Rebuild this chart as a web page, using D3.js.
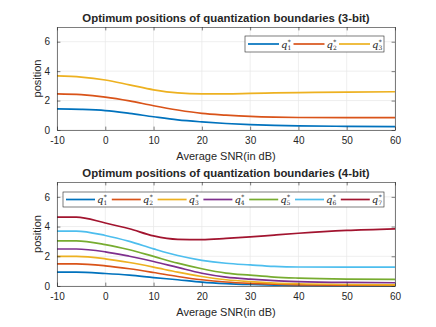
<!DOCTYPE html>
<html>
<head>
<meta charset="utf-8">
<script src="https://cdn.jsdelivr.net/npm/d3@7"></script>
<style>
body { margin: 0; background: #fff; }
svg text { font-family: "Liberation Sans", Arial, sans-serif; fill: #262626; }
</style>
</head>
<body>
<svg id="fig" width="436" height="327"></svg>
<script>
//*************************************************
// Data
//*************************************************
var snr3 = [-10, -5, 0, 5, 10, 15, 20, 25, 30, 35, 40, 50, 60];
var q1_3bit = [1.43, 1.40, 1.32, 1.13, 0.90, 0.69, 0.55, 0.44, 0.36, 0.31, 0.28, 0.25, 0.23];
var q2_3bit = [2.45, 2.40, 2.24, 1.98, 1.65, 1.36, 1.13, 1.01, 0.92, 0.87, 0.85, 0.84, 0.84];
var q3_3bit = [3.68, 3.60, 3.40, 3.07, 2.73, 2.52, 2.46, 2.46, 2.49, 2.52, 2.54, 2.58, 2.60];

var snr4 = [-10, -6, 0, 5, 10, 15, 20, 25, 30, 35, 40, 50, 60];
var q1_4bit = [0.93, 0.93, 0.84, 0.73, 0.57, 0.42, 0.26, 0.16, 0.10, 0.06, 0.04, 0.02, 0.01];
var q2_4bit = [1.49, 1.49, 1.36, 1.16, 0.91, 0.64, 0.42, 0.27, 0.18, 0.12, 0.08, 0.05, 0.04];
var q3_4bit = [1.99, 1.99, 1.83, 1.58, 1.27, 0.93, 0.64, 0.42, 0.29, 0.20, 0.15, 0.10, 0.08];
var q4_4bit = [2.49, 2.49, 2.30, 2.00, 1.65, 1.25, 0.86, 0.60, 0.46, 0.36, 0.30, 0.24, 0.22];
var q5_4bit = [3.04, 3.04, 2.79, 2.44, 1.99, 1.54, 1.16, 0.87, 0.73, 0.60, 0.53, 0.46, 0.44];
var q6_4bit = [3.70, 3.70, 3.40, 3.00, 2.50, 2.05, 1.73, 1.53, 1.42, 1.32, 1.28, 1.27, 1.27];
var q7_4bit = [4.64, 4.64, 4.24, 3.85, 3.37, 3.14, 3.12, 3.20, 3.30, 3.43, 3.55, 3.74, 3.85];

var xTicks = [-10, 0, 10, 20, 30, 40, 50, 60];
var yTicks = [0, 2, 4, 6];

var matlabColors = ['#0072BD', '#D95319', '#EDB120', '#7E2F8E', '#77AC30', '#4DBEEE', '#A2142F'];


d3.boundaryChart = function (){

    //*************************************************
    // Public Variables loaded with default values
    //*************************************************
    var _title = '';
    var _xValues = [];
    var _series = [];
    var _box = {left: 57, right: 395, top: 27, bottom: 130};
    var _legend = {left: 245, right: 384, top: 36, bottom: 52, step: 45.5, line: 31};

    function chart(selection){
        selection.each(function (){
            var root = d3.select(this).append('g');

            var x = d3.scaleLinear().domain([-10, 60]).range([_box.left, _box.right]);
            var y = d3.scaleLinear().domain([0, 7]).range([_box.bottom, _box.top]);
            var plain = function (d){ return String(d); };   // hyphen minus like MATLAB

            // grid
            root.append('g').selectAll('line').data(xTicks).join('line')
                .attr('x1', d => x(d)).attr('x2', d => x(d))
                .attr('y1', _box.top).attr('y2', _box.bottom)
                .attr('stroke', '#e6e6e6').attr('stroke-width', 0.7);
            root.append('g').selectAll('line').data(yTicks).join('line')
                .attr('y1', d => y(d)).attr('y2', d => y(d))
                .attr('x1', _box.left).attr('x2', _box.right)
                .attr('stroke', '#e6e6e6').attr('stroke-width', 0.7);

            // curves
            var line = d3.line().curve(d3.curveMonotoneX)
                .x((d, i) => x(_xValues[i])).y(d => y(d));
            root.append('g').selectAll('path').data(_series).join('path')
                .attr('d', d => line(d))
                .attr('fill', 'none')
                .attr('stroke', (d, i) => matlabColors[i])
                .attr('stroke-width', 1.7);

            // axes (MATLAB style: ticks inside, box on)
            var tick = 3.4;
            var axB = root.append('g').attr('transform', 'translate(0,' + _box.bottom + ')')
                .call(d3.axisBottom(x).tickValues(xTicks).tickSize(-tick).tickSizeOuter(0).tickPadding(7).tickFormat(plain));
            var axT = root.append('g').attr('transform', 'translate(0,' + _box.top + ')')
                .call(d3.axisTop(x).tickValues(xTicks).tickSize(-tick).tickSizeOuter(0).tickFormat(''));
            var axL = root.append('g').attr('transform', 'translate(' + _box.left + ',0)')
                .call(d3.axisLeft(y).tickValues(yTicks).tickSize(-tick).tickSizeOuter(0).tickPadding(7).tickFormat(plain));
            var axR = root.append('g').attr('transform', 'translate(' + _box.right + ',0)')
                .call(d3.axisRight(y).tickValues(yTicks).tickSize(-tick).tickSizeOuter(0).tickFormat(''));
            [axB, axT, axL, axR].forEach(function (a){
                a.selectAll('path,line').attr('stroke', '#262626').attr('stroke-width', 0.6);
                a.selectAll('text').attr('font-size', 10).attr('fill', '#262626')
                    .attr('font-family', '"Liberation Sans", Arial, sans-serif');
            });

            // labels
            root.append('text').attr('x', (_box.left + _box.right) / 2).attr('y', _box.top - 5)
                .attr('text-anchor', 'middle').attr('font-size', 11.4).attr('font-weight', 'bold')
                .attr('fill', '#000').text(_title);
            root.append('text').attr('x', (_box.left + _box.right) / 2).attr('y', _box.bottom + 30)
                .attr('text-anchor', 'middle').attr('font-size', 11).text('Average SNR(in dB)');
            root.append('text')
                .attr('transform', 'translate(41,' + ((_box.top + _box.bottom) / 2) + ') rotate(-90)')
                .attr('text-anchor', 'middle').attr('font-size', 11).text('position');

            // legend
            var lg = root.append('g');
            lg.append('rect').attr('x', _legend.left).attr('y', _legend.top)
                .attr('width', _legend.right - _legend.left).attr('height', _legend.bottom - _legend.top)
                .attr('fill', '#fff').attr('stroke', '#262626').attr('stroke-width', 0.6);
            var cy = (_legend.top + _legend.bottom) / 2;
            var items = lg.selectAll('g.item').data(_series).join('g').attr('class', 'item')
                .attr('transform', (d, i) => 'translate(' + (_legend.left + 3 + i * _legend.step) + ',' + cy + ')');
            items.append('line').attr('x1', 0).attr('x2', _legend.line)
                .attr('stroke', (d, i) => matlabColors[i]).attr('stroke-width', 1.7);
            var lbl = items.append('text').attr('x', _legend.line + 2).attr('y', 3.5)
                .style('font-family', '"DejaVu Serif", "Liberation Serif", serif').attr('fill', '#000');
            lbl.append('tspan').attr('font-size', 10).attr('font-style', 'italic').text('q');
            lbl.append('tspan').attr('font-size', 6).attr('dy', 2).text((d, i) => i + 1);
            lbl.append('tspan').attr('font-size', 6).attr('dx', -3.4).attr('dy', -6).text('*');
        });
    }

    //-------------------------------------------------
    // Getters and setters for public variables
    //-------------------------------------------------
    chart.title = function (value){
        if (!arguments.length){ return _title; }
        _title = value;
        return chart;
    };
    chart.xValues = function (value){
        if (!arguments.length){ return _xValues; }
        _xValues = value;
        return chart;
    };
    chart.series = function (value){
        if (!arguments.length){ return _series; }
        _series = value;
        return chart;
    };
    chart.box = function (value){
        if (!arguments.length){ return _box; }
        _box = value;
        return chart;
    };
    chart.legend = function (value){
        if (!arguments.length){ return _legend; }
        _legend = value;
        return chart;
    };

    return chart;
};

var svg = d3.select('#fig');

var top3 = d3.boundaryChart()
    .title('Optimum positions of quantization boundaries (3-bit)')
    .xValues(snr3)
    .series([q1_3bit, q2_3bit, q3_3bit])
    .box({left: 57, right: 395, top: 27, bottom: 130})
    .legend({left: 245, right: 384, top: 36, bottom: 52, step: 45.5, line: 31});
svg.call(top3);

var bottom4 = d3.boundaryChart()
    .title('Optimum positions of quantization boundaries (4-bit)')
    .xValues(snr4)
    .series([q1_4bit, q2_4bit, q3_4bit, q4_4bit, q5_4bit, q6_4bit, q7_4bit])
    .box({left: 57, right: 395, top: 182, bottom: 286})
    .legend({left: 63, right: 384, top: 192, bottom: 207, step: 45.8, line: 29});
svg.call(bottom4);
</script>
</body>
</html>
